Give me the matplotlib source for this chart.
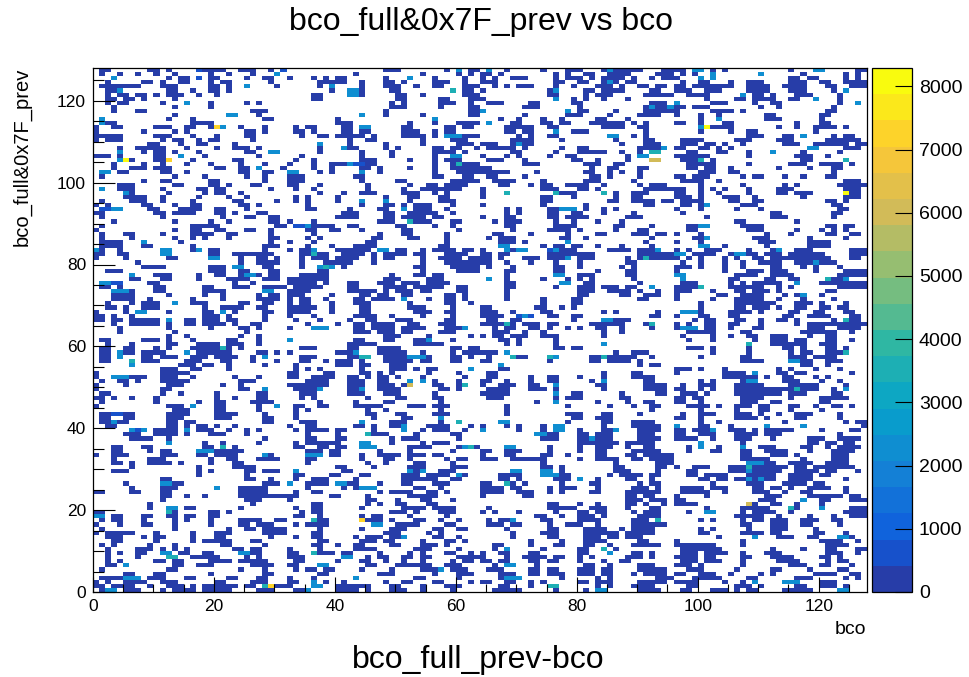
import numpy as np
import matplotlib
matplotlib.use("Agg")
import matplotlib.pyplot as plt
from matplotlib.colors import LinearSegmentedColormap, ListedColormap, BoundaryNorm
from matplotlib.ticker import MultipleLocator

# bin content for each colour code ('.' = empty bin)
code_counts = {'.': 0, '1': 200, '2': 650, '3': 2300, '4': 3700, '6': 6000, '7': 7100, '8': 8200}
z_max = 8290
n_levels = 20
cbar_ticks = list(range(0, 8001, 1000))
x_ticks = list(range(0, 121, 20))
y_ticks = list(range(0, 121, 20))

# one row per bco_full&0x7F_prev bin, written as 4 blocks of 32 bco bins
# (bco 0-31 | 32-63 | 64-95 | 96-127)
rows_top = [  # y = 127 ... 85
    (".11......11.1....21111..111..1.2", "................111.......1.3.11", ".3..1.....1...111...1311111...11", "11.33.1.1..........1...33.....11"),
    (".1..1..1..1..1.....1..1...1...3.", "...........1..........1.....1.1.", "11.1........1.1..11..1111....111", ".1.1..3.......3......1......1.1."),
    ("...3........1.11.2.11....1..11..", "1...1.1.11......1...3...1....1..", "1.1..111....1.111.1.1111.1..1.11", "1...3.3............11.11....1.1."),
    ("..1.....11.1..11...1.11......1..", ".....11111..1...11.1....111..1..", "111.........11..11..131.11......", ".1..11...1..111....111..11..1111"),
    (".1111111...111.....11.1..3....1.", ".....1.3....1...111..1..11...111", "..1.1.111...1..1...111.1..11.11.", "11.1111111..1111..1111...11..111"),
    ("..113.......11..1..11.1.........", ".......1..331....11........4.11.", "1..........13....11.1111....11..", "111..111....1111...111....1.3..."),
    ("..1.11.11.1.111..1..1...........", "....11....331.....11..1......111", "...........11....1.111.....11111", "..1111.....3.11.1...111....1...."),
    ("..11.11.1....1..................", "....11............11.....11...11", "1...........3..1.1..1...1.......", ".....1....11.1111..11..3...1...."),
    ("..1.11.....1...3...1.....1.1....", ".................1.1.....111..1.", ".111....11.....11...........111.", "3.....111....1..11.........1..3."),
    ("...1.........1.....1............", ".................111.....1....11", ".......111......1..........13113", "11.111........1..1........1....."),
    ("...1...11.................111...", "................1.............11", "3.............3.11....1....11111", "1.....1111.1.............11....."),
    (".............1........33...1....", "............3...1.....1.......11", ".......1......111....1....1111..", "1...1..1.......11.......11......"),
    (".3..........1...1...........11..", "........1...............3.......", "...1..1...1..1.....11...1.......", "....1..3.......111......1......."),
    (".311............1111............", "........111.........1...1...1111", ".3...11...11.11...111111.1.1....", "11..1...11..........1...11......"),
    ("1..11.....111..11..173..1...1...", ".1.11....11.33.....11.....11.11.", "....11111..11.......1111..11....", "....381111.......1..1..1111.1..."),
    ("1.......1....1.1.........11.1...", ".11.1....11.11.....111..1.11....", "....11.11...3..111.........1....", "....1....1..11.........1........"),
    ("11111.....111...1...1....11.....", "..1..11.11111.1....1111.1.333111", "......1.1..11........33..1.1....", "............111...11.3....1.11.."),
    ("1.111......1.11..1.11.....1.....", "..........1..11.......1....111..", ".....1111....1........1....11...", ".1111.....111....111.....111111."),
    (".........11...1..11....1........", ".....3....1.....1.....1.....111.", "111..1311..............1...111..", ".111.11.1..1......111..111111.11"),
    ("....1..11111...1....1..111.1....", ".....1...311....1.1.....11.11..1", ".11111.1.....1..11........11113.", "11..11.1.1............33....111."),
    ("....3...1.11.1...1.......11..33.", ".....1......1....1......1111.1..", ".....11.....1...11111..1..1.44..", "..11...11...1...3....1.....1...."),
    ("111.1.....11..3...1........1....", "..1.........1....1......1..33...", "1...1.1....1..11........1.33....", "111111......1.......111..1......"),
    ("....381...117...1......11.......", ".1..1.......111.....1...1.111...", ".111...1.......11..1....1...66..", ".1114.1..............11.....4..."),
    ("...1....1..1...1...1....1...1...", "1...1..11132211.........1..14111", ".......111.......111..11........", "..11111.....1......111..1111.1.."),
    ("...1..111.111.......11..11.3...1", "....1..1....11.1....1...1..11111", "11................1..11...11....", "..11.11..1.......1....1...11...."),
    (".33.11.....11..1........11..11..", "33...1.1....3..1........1...1111", "11111....1.......11..1.1..1.....", "....111..11...............1....."),
    (".1...........1....1......1..1...", "111........11...........11...11.", ".11....1..........11.1....1.....", "11.111.....1.11...1..1...11....."),
    ("........1..11......11.......1...", "111.........1.....11.......11111", "..1111....1......111.....1......", ".1111..1....................111."),
    ("....111......11....11.1...11....", "11...1.......1......1..11.1111..", "...11...1.11..1111..1.....1.111.", "....1......1......1.1......11111"),
    (".3..111....1.....11.11.......1..", ".1..1........1.....1..1111111...", "1.........111...11.1.......11111", "11..1.1.1...1....111........111."),
    (".....31.....1.....1.11..1.......", ".....1...1..111....111..1.1.....", "1...4.......4111....4.1..111....", "11..1..1....1....11.111.....811."),
    (".....1111..1.....1....1..1......", ".1.1....1.......1...11...11.....", "1.........11...1......1..11.....", "111.1...111..1.......1......111."),
    (".1....111..1....1......11.....1.", ".1.1....1...3...3...1....111....", "..........11.........11..1111.11", ".1111....11..11..........11.1..."),
    ("1.1.....11...1..11......11.1....", "...1........1...11.1.111...1....", "1.........1......1.........11...", ".11.13.....111............11...."),
    (".2233....11...1111..11...1......", "...11.....1....11..3.111..1.....", "....1.1....11333.1..1.1.........", "1...1.....1...1............11..."),
    ("11........11.1111...11.1...11...", ".........111....11..11111..1....", "....1.1....11..11...1....1......", ".1..............11........11...."),
    (".1.........1.........1...11..11.", "........1111....11.1111.11......", "1...11.....11.1111......111.....", ".....1..........111.......1....."),
    ("...1.........1.....1..1......11.", "1...1..........111..4111...11...", "..1.111.....1..1...1...1........", "..........11........1..........."),
    (".1..............11111.........11", ".2231111..11......11....1..1....", "....11......1111......11....1...", "..1133.....1111..........11.11.."),
    ("1............1..11..11...11..1..", "...11..11...1......11.......1...", ".....1.....1111.1.....1...11....", "..11........111.....1...1.1.1..."),
    (".1...11....1....1111..11.....1..", "....1..........1...11.....1.....", "..11....1.....1....11....111.11.", "1...1..........1...1.....11..11."),
    (".1....1......1..1.1...1......11.", "...1.1........11....11....1.....", ".1.111.......11..1..........1...", "...113.......111......1.....1..."),
    (".1111...3.....1..............1..", "1...1........11...........1.....", "...111.1......3............1....", "1...1.........111.....1111......"),
]

rows_mid = [  # y = 84 ... 42
    (".1111...11......1...........111.", "...1...1...1111..........11.....", "...33.....1.11.11..1...1....1...", "....33..1......1......1111......"),
    ("31..1......33...13.11.......1...", "1.113...111111.33.11..1.1111.11.", "1...3133...23111.....1111.1113..", "1.1..111....1...13..111......111"),
    ("11..11.....33......11..1111111..", "..11411..1111.1.1111.11...1111..", "11.11......11111111.......111111", "33.1111..13311.111.111111....111"),
    ("1....1......11.....33...1..11.1.", "..1.111.1111..1.11....1..1111.11", "11.1...111.1113.111.....1.141111", "1.1.1...1.1..11.1111111111...11."),
    (".......1................1..1111.", "..1...11111...1.......1...111111", "11..1...1...1...1.......11......", ".1..1...1..1..1111..1113111....."),
    ("........1111.......111.33...11..", "..1..343.1...........11....11111", ".1...1......11..1......1.1......", "111.1...1..1....11...1.1...1...."),
    ("..111..............111..11...11.", ".....11...............1.....1111", "....11......11.....1....11......", "1.......1...111.111....1....1111"),
    ("......3...111....1..11..1331.11.", "..11111..........1...11.11......", "....1.......33..111.....11......", "33........1111..1111.......11111"),
    ("......11...11....1....1111..111.", "1111111.........111....111......", ".3..1.....1...1.1.1......1......", ".3.......11....11..11....4113..."),
    (".3322....11............1..1.....", "11111.1...11...111.111.1111.....", "....11.......33..11.......1.....", ".111.....1.1.11111..3...11111111"),
    (".11.1.....11......11...111..1111", ".11111....11....1111.11111..11..", "....11......1...111.111.11..3...", "11114....111111..1.1.......11111"),
    ("...3331...11......1111......33..", "1111......11111.1.111.11....11..", "....1...........111..1111.1..1..", "111...1...11.111.1.......11....."),
    ("...1111.....1.....1..1.....1.11.", "111....1....11.11..11.....11.1..", "....1...........11.....11..111..", "1......11..1111...1.13..1......."),
    ("...1111..1......1....1.....1111.", "1.11..1....11.1111.3...1..11.1..", "....1.....1....11.........11....", "1.....1...11111..1...1....1....."),
    ("..1...1.111..3..111.....11..11..", "1.11...1...111......1.....11..1.", "..........1....11...............", "....1.....1111111...111.1...1..."),
    ("..11.1..111.......1..1111..11...", "11111..1....11......111....1....", "11.......11..1.1................", "....1.....11.111.1..11..11.11..."),
    ("1....1.33...1.....11.3.1....11..", "1111...1....11.......111..11....", "111..1....11........1.1......1..", ".3331....1111.1....11..11...11.."),
    ("11.1..1...........111.1.....1...", "1...1......1111..1....1....1....", "1111..232..11..11...........11..", "1...11...11.......11..1111...11."),
    ("11.11.11111.3..11.111.11....1...", ".1...1....1..11...111.....11....", ".11..11........1....33111.......", "...1.11...11..1..11.1.....1.411."),
    ("...1..11111.1..11.1111.1..11....", "...1....1..11.1111..11...111....", "111141.111.11.....111111...14...", "1.1..11..11...1.....1.1111111111"),
    ("....1.......1......1....11.1....", "1...333....11.1111.1111...1113..", "..1.11..11.1..1.1..11..1....1...", "1333.11..1...11.......111..1111."),
    ("....1........1...........1......", "...........111.111.11....111....", "..111..1..1.........1..1........", "..11111....11........111111..1.."),
    ("............1..1........1..1....", "................111....1......1.", "1.11.111..111.......1...........", ".1....1..1..11..111...1..11....."),
    (".11.....111.1...1.....11...1....", "3..........11...11...113...1....", "...11.1.....1...................", "..1...1......1..111.11...11..1.."),
    ("..1...1.....11...1111.111..1....", "..........11111......11111......", "....1.1.....1.......3...........", "............4...111111..111....."),
    (".11..11...1.1...1111141.1.......", "..111.....11...1111........11.11", "............11.11...............", "..111.1.....1.....11.1...11.1..."),
    (".11.311.1111...3.111111....11.1.", "1.......1113...11111..1....1.111", "111.3.................1..111....", "......1.....1......1.11..1114..."),
    (".11.3...11.111..111.1111..1.3...", "..111.....1144..11113331...11.1.", ".1...411...43.....11411111..1...", "....1......11......111.1111....."),
    (".11...4.111....111...11...1...1.", "..11..1.111.1...11111.11...11...", "11.........1......11.1111.1.....", "...........1111....3311..111...."),
    ("......3.......111.11..1.....1...", ".1......111.11...111............", "...3......................1.11..", ".....................11..1......"),
    ("...........111..11....1.........", ".1.1.1......1....111.1.11.....3.", "...11...........................", "111.1...1........1.1...1...1...."),
    ("1..........11111................", "11....11....11.1.1.....1....1...", ".11.................1....11.....", "1.......1111.3...11.11.......1.."),
    ("1..333111..111..1......1...1....", "11..1111..11.1.11.1...1......1..", ".11.....1..11...1...1....1111...", "........111111.1..11...1.1......"),
    (".1..11.1...11111........111.....", "...1111...111..11...3.3.1...1...", "11..1...1..11.....1.3......11...", "....1.1....133....111...1..1...."),
    ("1....1......111......1..1.......", "1111111...111..111.16...11..14..", "1..111..11..3......11......1111.", ".1..111...11111....11111....1..."),
    ("1..........11...........11..3...", ".11113....113..1111......11.1...", ".1111...111.1.......1......1111.", "11..1.1...11111111114111..1.3..."),
    (".11........1..1.....1......11...", "..111.....111...111.....1.......", "11111.......3..11......1.....11.", ".111.1....11111111.111....11...."),
    ("11.1..1...1.........1..1...11...", "..1.1........1....11....11......", ".111........1.111......11.......", "11.11......1111....1....11111..."),
    (".1........1......1..11....1111..", ".....1.....1....11.......1......", ".........1..3......1....1..11...", "11..1......111..11......11......"),
    ("1...........111.3...11.....1..3.", ".11..11....11111....111.111.....", "....1.........1......1...1..11..", "..1111.1..111.11...11..1..11.1.."),
    (".............111....11.....1....", ".1.1.........1..1........1......", "....1.......................1...", "....1.....1...11...1....1......."),
    (".112211.....1111....1111....1...", ".1...........11...11....111.....", "....1.........111...11....1.....", ".1..111...111.1..1..111....1...."),
    (".11..11.....111.....111.....11..", ".1............1....11....3......", "...............11..111..........", "11..1.....1111.1....11.....1...."),
]

rows_low = [  # y = 41 ... 0
    (".11311......11.11...........11..", "..111.......3....111.....1..4...", "...33.........1.....11...1111...", "....1..1..........1.........1.11"),
    ("..11........11.1.11.1..1........", "1..11......11.1..113...1111...1.", "1...1.1...1.33......1....11111..", "3...11...1.....3.....3.........1"),
    ("......323.1111.3.111..1..1.1....", ".1.1111.11....1....3..1.111..1..", "3.....1...1.33..1...113...1111..", "11.1113..111.1.11111....1....11."),
    (".....111..1111.1...111...1......", "...1....1....4111....1.....11...", ".........3311...11.111....111...", "11..111...1111.111.........1...."),
    ("......1111..1...............1...", "...11...11.......1.111......1...", "..........111...113111....1111..", "1111..1...111...1.....111..1111."),
    ("............3.....1..1.....1....", ".1.111111...33...1....1.111.....", "................1111111.11111...", "....3......1..........11.11.11.."),
    ("...11...11........11.4.1........", ".11..11.11..333.....1111....1341", "....33.....1....1..111..1..11...", "..1.3..1...3..111....11..1.1111."),
    ("...11....1.11....33311111.......", "...111.11......1....1......1....", "11..111....1....1..11....11111..", "..1...11...11..1111...1...1111.."),
    ("1..111.....111...11.1111....31..", "...333.11...1..1111.111.11......", "1...11....11..1....11...11.11111", "...........11...111.1.....111..."),
    ("...1.....111.......1..11...1111.", "...11.......1...11..1.....1.11..", "111..111111.....1..1111..11.1111", "...........11111.....1....111..."),
    ("...11.1..1111.1....1...11.......", "...1.........1..1....11....1....", "..........1...........1......111", "............33311..1111..1111..."),
    ("......1..........1.....1111.....", "........11....1.....111....111..", "..........11.1........11.....11.", "1..111...1114111111.11.1111111.."),
    ("...111...........1.1.....11.111.", ".3.......11.........313..111....", ".....33...33.1........111....1..", "..11.....111311111..1111.11...1."),
    (".................1.......1......", ".11....11...11.....111.1111.31..", "...1111...33311......1.1111.11..", "..11.1111...11111..1111.11......"),
    ("...........11............11..1..", ".1..111....1.......111111..11...", "...11.1.....111.3..1....11..1...", "....11.11.1131311..1111.....1..."),
    (".....1.....3311.............111.", "3..1111.3311...1...11...111.....", "11..41.1.....1....11......1.11..", "......1.....111...1111.11......."),
    ("......1....111......3...11111...", "...1.....1.1333......11..1......", "1111.11....1.111...1.....111.1..", ".1111.111....11.11.1..1111..1..."),
    ("11....11...11...........11111...", ".1..11.........1.1111..11.1.....", "1111..111..1.1....11....111111..", ".11111..1....111..1..11.....1..."),
    ("...........11..1..1.....11111111", "11.....11....1......11111.......", "1......11...............11.11...", "1....1.........111....111111.11."),
    ("...........1.............111....", "1............11...1...11...1....", "........................111.111.", "11............111....3..11...111"),
    (".........1................1.....", "....11.......1.1..11...11.......", "...........11...1..1....11.1..1.", "1111........61..11..1...1......."),
    (".........1..33.11.......1.......", ".1..11......1......1111.1111....", ".1.........11111..111...1...11..", ".....1.....11111...41...3....111"),
    ("11..........41.....11.1.........", "..1.11...........111.1...111....", "1.1...1.....1...11.11....1.111..", "..1..33....1.1111..1........1111"),
    ("33.11...11..11.11..11...........", ".11..1......1.11....1.....1.....", ".........11..1..111.1.....1111..", "..........11111..1....1...1..111"),
    (".1.11...1....1.1...1....1111..11", "....411.....7111.1...11..1..1...", ".1.113....11....1111.....111.4..", "....1.1....1.11.111..111..11...."),
    ("1...1...11...1.....1....11.111..", ".1.1111.......33..1111....11....", ".111.11....1..111..1.....111111.", "...........11...111..11....1...."),
    (".1...........1........1..11.1111", ".....1......1....111....11..11..", "....1......11....1111..1.1111...", "....1.1.....1...111....1........"),
    ("1.11111...1.....1...111.....1111", "....11..........111....1.1......", ".....1....111....111111.11111...", "....11.....1111.11.....11...1..."),
    ("..111...1.11....1...11.......1..", ".1..11.....1.111.113....11..1...", ".....1.....11....111.11.111.....", ".......1.....3...111..11...331.."),
    ("...11.....1.....1.11111...11....", ".....11.....111.11....1...11.1..", "........1....1...1111.....11....", "1..........1............1111..1."),
    (".1.1.....1...1.......11.....1...", "....11..1..11....11...111.1.....", "..11....1...11...11..1...11111..", "1111111....1.............1111..."),
    ("..1....111.1.1.1.......11.11....", "1....1.....1111......111....1...", "..1.3.....1.....11..4.1.........", ".1111111........1....1...11...11"),
    ("..1.1..11..33.11..11....3311....", "11..4111.11....1....1.1...11..1.", "1..11...11......11...3...11.1...", ".111.1111..1...111.......111..1."),
    ("..1....1....44..11111....1.1....", "111......33..1.11..11.11....1111", "1...1..1111.11..1.1.....111.1...", "1111.11....11...1111....11.1...."),
    ("..1.1.....11.11....1111.11111...", ".11.....1...11..1..1..1....1.11.", "11.11...11.11...1...1..11.......", ".111.111...1.....1111....1.11..."),
    ("..11.3.......11..111......1111..", "11...33......11...111111..111...", "..1.33...1.......11..1....111...", "111.1......1.......111..11...1.."),
    (".1..........11..........1...1...", ".1.11.11....1....1....1113.111..", ".111....11.11...111.11....11111.", "..111.....1.....11....1....11..."),
    (".....11...11.......1........11..", ".....11........111......1...111.", "...111..11.111..111.11...1.1111.", "11..111..1....1.1......1111..11."),
    (".1111333.111...11.....11...11...", "1...1......3.........11.....1...", "...1333......1.....1.1.......111", "...11111....11......111.....1.1."),
    ("1.1..1111..111......11....111...", "11..3.1..1......1..11...11....1.", "11..11..1.1.....11.111....11111.", "1111....1..1.3....333...111....."),
    ("11.1111..1..111.1.111111.11.4711", "1...33..111111...11...1...111...", "...11...1..44......1.1...1111...", "..11......111.1.....11..111.1..."),
    (".133.111...1.1111.11111....111..", ".113....1111.1...111..1....1....", "..11111.....1....1.33.....1111..", ".11...111.1.11....11111....33..."),
]


def block_row(blocks):
    return "".join(b[:32].ljust(32, ".") for b in blocks)


all_rows = rows_top + rows_mid + rows_low          # top row first
counts = np.array([[code_counts[c] for c in block_row(r)] for r in all_rows], dtype=float)[::-1]
counts = np.ma.masked_equal(counts, 0)

# ROOT kBird palette, 20 contour bands
bird_stops = [0.0, 0.125, 0.25, 0.375, 0.5, 0.625, 0.75, 0.875, 1.0]
bird_rgb = [(0.2082, 0.1664, 0.5293), (0.0592, 0.3599, 0.8684), (0.0780, 0.5041, 0.8385),
            (0.0232, 0.6419, 0.7914), (0.1802, 0.7178, 0.6425), (0.5301, 0.7492, 0.4662),
            (0.8186, 0.7328, 0.3499), (0.9956, 0.7862, 0.1968), (0.9764, 0.9832, 0.0539)]
bird = LinearSegmentedColormap.from_list("bird", list(zip(bird_stops, bird_rgb)))
band_colors = [bird(int((i + 0.99) * 255 / n_levels) / 254) for i in range(n_levels)]
cmap = ListedColormap(band_colors)
norm = BoundaryNorm(np.linspace(0, z_max, n_levels + 1), n_levels)

plt.rcParams['font.family'] = ['Liberation Sans', 'DejaVu Sans']

W, H = 969, 677
fig = plt.figure(figsize=(W / 100, H / 100), dpi=100)
ax = fig.add_axes([93 / W, 85 / H, 774 / W, 524 / H])
cax = fig.add_axes([872 / W, 85 / H, 40 / W, 524 / H])

edges = np.arange(129)
mesh = ax.pcolormesh(edges, edges, counts, cmap=cmap, norm=norm)
ax.set_xlim(0, 128)
ax.set_ylim(0, 128)

ax.set_xticks(x_ticks)
ax.set_yticks(y_ticks)
ax.xaxis.set_minor_locator(MultipleLocator(5))
ax.yaxis.set_minor_locator(MultipleLocator(5))
ax.tick_params(axis='x', which='major', direction='in', length=11, width=0.8, labelsize=12.5, pad=5)
ax.tick_params(axis='x', which='minor', direction='in', length=6, width=0.8)
ax.tick_params(axis='y', which='major', direction='in', length=16, width=0.8, labelsize=12.5, pad=5)
ax.tick_params(axis='y', which='minor', direction='in', length=8, width=0.8)
for s in ax.spines.values():
    s.set_linewidth(0.9)

cb = fig.colorbar(mesh, cax=cax, ticks=cbar_ticks)
cb.outline.set_linewidth(0.9)
cax.yaxis.set_ticks_position('right')
cax.tick_params(which='major', direction='in', length=12, width=0.8, labelsize=14, pad=5)
cax.minorticks_off()

fig.text(481 / W, 1 - 22 / H, "bco_full&0x7F_prev vs bco", ha='center', va='center', fontsize=23)
fig.text(22 / W, 1 - 68 / H, "bco_full&0x7F_prev", rotation=90, ha='center', va='top', fontsize=14.5)
fig.text(866 / W, 1 - 630 / H, "bco", ha='right', va='center', fontsize=14)
fig.text(478 / W, 1 - 660 / H, "bco_full_prev-bco", ha='center', va='center', fontsize=23)

fig.savefig("out.png", dpi=100)
